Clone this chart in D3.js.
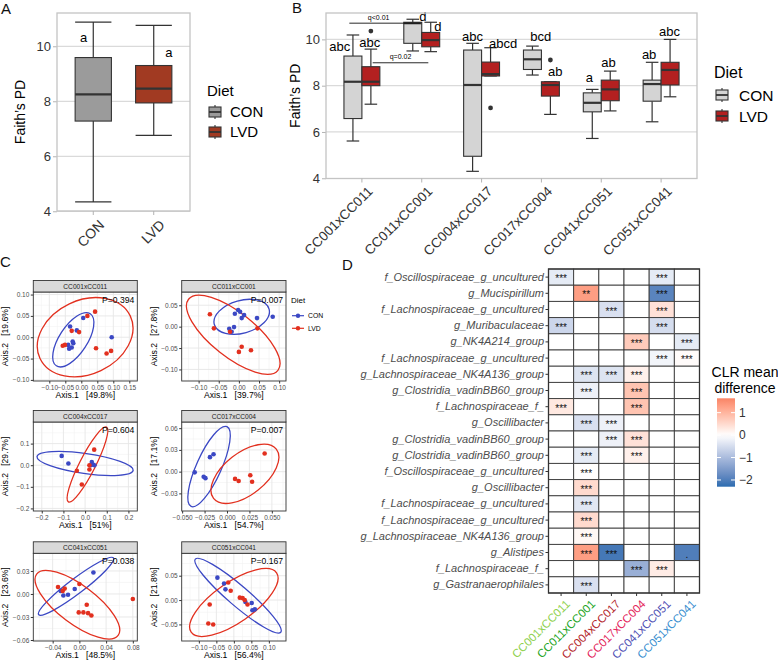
<!DOCTYPE html>
<html>
<head>
<meta charset="utf-8">
<script src="https://cdn.jsdelivr.net/npm/d3@7"></script>
<style>
  body { margin: 0; background: #fff; }
  text { font-family: "Liberation Sans", Arial, sans-serif; }
</style>
</head>
<body>
<div id="vis"></div>
<script>
// ---------- data ----------
var dietGroups = ["CON", "LVD"];
// [min, q1, median, q3, max]
var faithAll = [
  [4.34, 7.28, 8.25, 9.59, 10.88],
  [6.76, 7.94, 8.46, 9.30, 10.76]
];
var lettersAll = ["a", "a"];
var lettersAllY = [10.33, 9.78];

var crosses = ["CC001xCC011", "CC011xCC001", "CC004xCC017", "CC017xCC004", "CC041xCC051", "CC051xCC041"];
var faithCON = [
  [5.61, 6.58, 8.17, 9.28, 10.19],
  [9.50, 9.83, 10.70, 10.74, 10.87],
  [4.30, 4.95, 8.03, 9.54, 9.83],
  [8.46, 8.70, 9.14, 9.54, 9.71],
  [5.72, 6.87, 7.26, 7.69, 7.84],
  [6.44, 7.33, 8.07, 8.24, 9.01]
];
var faithLVD = [
  [7.20, 8.00, 8.17, 8.82, 9.58],
  [9.47, 9.68, 9.97, 10.30, 10.74],
  [8.42, 8.42, 8.50, 9.02, 9.64],
  [6.76, 7.55, 8.03, 8.17, 8.17],
  [6.91, 7.35, 7.84, 8.24, 8.63],
  [7.52, 8.03, 8.68, 9.01, 10.00]
];
// [cross index, diet, value]
var outliersB = [[0, "LVD", 10.36], [2, "LVD", 7.04], [3, "LVD", 9.11]];
var lettersCON = ["abc", "d", "abc", "bcd", "a", "ab"];
var lettersCONY = [9.68, 11.01, 10.12, 10.12, 8.34, 9.37];
var lettersLVD = ["abc", "d", "abcd", "ab", "ab", "abc"];
var lettersLVDY = [9.86, 10.55, 9.83, 8.60, 9.01, 10.33];
var qLabels = ["q<0.01", "q=0.02"];
var qLevels = [10.70, 8.99];

// PCoA facets
var pcoaP = ["P=0.394", "P=0.007", "P=0.604", "P=0.007", "P=0.038", "P=0.167"];
var axis1Pct = ["49.8%", "39.7%", "51%", "54.7%", "48.5%", "56.4%"];
var axis2Pct = ["19.6%", "27.8%", "29.7%", "17.1%", "23.6%", "21.8%"];
var xLimits = [[-0.150, 0.175], [-0.142, 0.117], [-0.239, 0.241], [-0.0505, 0.0658], [-0.069, 0.0867], [-0.149, 0.149]];
var yLimits = [[-0.1026, 0.106], [-0.127, 0.081], [-0.212, 0.200], [-0.0543, 0.0685], [-0.0613, 0.053], [-0.084, 0.096]];
var xTickVals = [
  [-0.10, -0.05, 0, 0.05, 0.10, 0.15], [-0.10, -0.05, 0, 0.05, 0.10], [-0.2, -0.1, 0, 0.1, 0.2],
  [-0.050, -0.025, 0, 0.025, 0.050], [-0.04, 0, 0.04, 0.08], [-0.10, -0.05, 0, 0.05, 0.10]
];
var xTickDigits = [2, 2, 1, 3, 2, 2];
var yTickVals = [
  [-0.10, -0.05, 0, 0.05, 0.10], [-0.10, -0.05, 0, 0.05], [-0.2, -0.1, 0, 0.1],
  [-0.03, 0, 0.03, 0.06], [-0.06, -0.03, 0, 0.03], [-0.05, 0, 0.05]
];
var yTickDigits = [2, 2, 1, 2, 2, 2];
var conPoints = [
  [[0.006, 0.045], [-0.035, 0.025], [-0.014, 0.016], [-0.027, -0.010], [-0.025, -0.014], [-0.041, -0.018], [-0.038, -0.027], [-0.030, -0.024], [0.095, 0.000]],
  [[-0.002, 0.039], [0.003, 0.035], [-0.010, 0.030], [0.013, 0.027], [0.007, 0.020], [0.045, 0.020], [0.084, 0.023], [-0.012, -0.001], [-0.024, -0.005], [-0.018, -0.012]],
  [[-0.108, 0.043], [-0.077, 0.008], [0.031, 0.015], [0.036, 0.003], [0.043, 0.000], [0.026, 0.000]],
  [[-0.036, -0.001], [-0.026, -0.007], [-0.024, -0.009], [-0.019, 0.020], [-0.015, 0.024]],
  [[0.021, 0.028], [-0.007, 0.0065], [-0.017, -0.001], [-0.024, -0.002], [-0.028, 0.004]],
  [[-0.047, 0.046], [-0.028, 0.034], [-0.024, 0.022], [0.033, -0.004], [0.051, -0.006], [0.053, -0.021], [0.060, -0.019]]
];
var lvdPoints = [
  [[0.043, 0.060], [0.019, 0.050], [-0.007, 0.012], [-0.030, 0.015], [-0.051, -0.018], [-0.058, -0.020], [0.046, -0.026], [0.079, -0.038], [0.093, -0.032]],
  [[-0.072, 0.029], [-0.062, -0.004], [-0.022, -0.012], [0.046, -0.004], [0.007, -0.047], [0.000, -0.059], [0.030, -0.055]],
  [[0.042, 0.072], [0.020, 0.000], [0.020, -0.020], [-0.038, -0.026], [-0.015, -0.089]],
  [[0.009, -0.010], [0.013, -0.013], [0.026, -0.005], [0.028, -0.014], [0.042, 0.025]],
  [[-0.032, 0.009], [-0.022, 0.007], [-0.025, 0.004], [0.000, 0.013], [0.011, -0.014], [-0.001, -0.024], [0.006, -0.024], [0.013, -0.025], [0.018, -0.028], [0.080, -0.0065]],
  [[-0.016, 0.036], [-0.009, 0.019], [0.017, 0.005], [0.025, 0.004], [0.031, 0.000], [0.039, -0.009], [-0.069, -0.009], [-0.073, -0.048], [-0.059, -0.050]]
];
// ellipse: [centre x, centre y, major-axis end x, major-axis end y, minor/major ratio]
var conEllipses = [
  [-0.025, -0.006, 0.028, 0.055, 0.45],
  [0.007, 0.023, 0.075, 0.041, 0.575],
  [0.000, 0.008, 0.222, -0.024, 0.205],
  [-0.020, 0.007, 0.000, 0.062, 0.284],
  [-0.005, 0.010, 0.051, 0.047, 0.16],
  [0.012, 0.009, 0.134, -0.066, 0.18]
];
var lvdEllipses = [
  [0.012, 0.000, 0.153, 0.050, 0.74],
  [-0.014, -0.019, 0.097, -0.102, 0.386],
  [0.011, 0.003, 0.099, 0.176, 0.19],
  [0.020, -0.003, 0.055, 0.031, 0.525],
  [-0.003, -0.014, 0.058, -0.054, 0.374],
  [0.000, -0.005, 0.122, 0.056, 0.385]
];

// heatmap
var taxa = [
  "f_Oscillospiraceae_g_uncultured", "g_Mucispirillum", "f_Lachnospiraceae_g_uncultured", "g_Muribaculaceae",
  "g_NK4A214_group", "f_Lachnospiraceae_g_uncultured", "g_Lachnospiraceae_NK4A136_group", "g_Clostridia_vadinBB60_group",
  "f_Lachnospiraceae_f_", "g_Oscillibacter", "g_Clostridia_vadinBB60_group", "g_Clostridia_vadinBB60_group",
  "f_Oscillospiraceae_g_uncultured", "g_Oscillibacter", "f_Lachnospiraceae_g_uncultured", "f_Lachnospiraceae_g_uncultured",
  "g_Lachnospiraceae_NK4A136_group", "g_Alistipes", "f_Lachnospiraceae_f_", "g_Gastranaerophilales"
];
var clrDiff = [
  [-0.3, null, null, null, -0.3, null],
  [null, 1.3, null, null, -1.9, null],
  [null, null, -0.45, null, 0.4, null],
  [-0.6, null, null, null, -0.5, null],
  [null, null, null, 0.7, null, -0.3],
  [null, null, null, null, -0.15, 0.05],
  [null, -0.4, -0.4, 0.2, null, null],
  [null, -0.2, null, 0.8, null, null],
  [0.3, null, null, 0.8, null, null],
  [null, -0.45, -0.2, null, null, null],
  [null, null, -0.2, 0.4, null, null],
  [null, -0.3, null, 0.2, null, null],
  [null, 0.02, null, null, null, null],
  [null, 0.5, null, null, null, null],
  [null, -0.35, null, null, null, null],
  [null, 0.5, null, null, null, null],
  [null, 0.1, null, null, null, null],
  [null, 1.3, -2.1, null, null, -2.0],
  [null, null, null, -1.2, 0.25, null],
  [null, -0.45, null, null, null, null]
];
var clrSig = [
  ["***", "", "", "", "***", ""],
  ["", "**", "", "", "***", ""],
  ["", "", "***", "", "***", ""],
  ["***", "", "", "", "***", ""],
  ["", "", "", "***", "", "***"],
  ["", "", "", "", "***", "***"],
  ["", "***", "***", "***", "", ""],
  ["", "***", "", "***", "", ""],
  ["***", "", "", "***", "", ""],
  ["", "***", "***", "", "", ""],
  ["", "", "***", "***", "", ""],
  ["", "***", "", "***", "", ""],
  ["", "***", "", "", "", ""],
  ["", "***", "", "", "", ""],
  ["", "***", "", "", "", ""],
  ["", "***", "", "", "", ""],
  ["", "***", "", "", "", ""],
  ["", "***", "***", "", "", "."],
  ["", "", "", "***", "***", ""],
  ["", "***", "", "", "", ""]
];
var clrLimits = [-2.3, 1.64];
var clrTicks = [1, 0, -1, -2];
var crossColors = ["#8fd14f", "#24a424", "#b3262b", "#e3245a", "#5050b4", "#3a8fd0"];

// ---------- drawing ----------
var svg = d3.select("#vis").append("svg")
  .attr("width", 778).attr("height", 662)
  .style("background", "#fff");

function drawBox(g, cx, bw, capW, s, y, fill) {
  var stroke = "#333";
  g.append("line").attr("x1", cx).attr("x2", cx).attr("y1", y(s[4])).attr("y2", y(s[3]))
    .attr("stroke", stroke).attr("stroke-width", 1.2);
  g.append("line").attr("x1", cx).attr("x2", cx).attr("y1", y(s[1])).attr("y2", y(s[0]))
    .attr("stroke", stroke).attr("stroke-width", 1.2);
  [s[0], s[4]].forEach(function(v) {
    g.append("line").attr("x1", cx - capW / 2).attr("x2", cx + capW / 2).attr("y1", y(v)).attr("y2", y(v))
      .attr("stroke", stroke).attr("stroke-width", 1.2);
  });
  g.append("rect").attr("x", cx - bw / 2).attr("y", y(s[3]))
    .attr("width", bw).attr("height", y(s[1]) - y(s[3]))
    .attr("fill", fill).attr("stroke", stroke).attr("stroke-width", 1.1);
  g.append("line").attr("x1", cx - bw / 2).attr("x2", cx + bw / 2).attr("y1", y(s[2])).attr("y2", y(s[2]))
    .attr("stroke", stroke).attr("stroke-width", 2.2);
}

function boxKey(g, x, y, fill) {
  g.append("line").attr("x1", x + 6).attr("x2", x + 6).attr("y1", y - 7).attr("y2", y + 7)
    .attr("stroke", "#333").attr("stroke-width", 1.1);
  g.append("rect").attr("x", x).attr("y", y - 5).attr("width", 12).attr("height", 10)
    .attr("fill", fill).attr("stroke", "#333").attr("stroke-width", 1.1);
  g.append("line").attr("x1", x).attr("x2", x + 12).attr("y1", y).attr("y2", y)
    .attr("stroke", "#333").attr("stroke-width", 1.8);
}

function panelLetter(t, x, y) {
  svg.append("text").attr("x", x).attr("y", y).text(t)
    .style("font-size", "15px").attr("fill", "#111");
}

function themeLight(g, x0, x1, y, ticks) {
  ticks.forEach(function(t) {
    g.append("line").attr("x1", x0).attr("x2", x1).attr("y1", y(t)).attr("y2", y(t))
      .attr("stroke", "#dadada").attr("stroke-width", 1.3);
  });
  var yAxis = d3.axisLeft(y).tickValues(ticks).tickSize(4).tickPadding(2);
  var ag = g.append("g").attr("transform", "translate(" + x0 + ",0)").call(yAxis);
  ag.select(".domain").remove();
  ag.selectAll("line").attr("stroke", "#b3b3b3");
  ag.selectAll("text").style("font-size", "13px").attr("fill", "#333")
    .style("font-family", "'Liberation Sans', Arial, sans-serif");
}

// ----- panel A -----
panelLetter("A", 1, 14);
var aLeft = 57, aRight = 190, aTop = 13, aBottom = 211;
var xA = d3.scalePoint().domain(dietGroups).range([aLeft, aRight]).padding(0.6);
var yA = d3.scaleLinear().domain([4.01, 11.21]).range([aBottom, aTop]);
var gA = svg.append("g");
themeLight(gA, aLeft, aRight, yA, [4, 6, 8, 10]);
var stepA = xA.step();
faithAll.forEach(function(s, i) {
  drawBox(gA, xA(dietGroups[i]), stepA * 0.6, stepA * 0.6, s, yA, i === 0 ? "#9b9b9b" : "#a13a22");
});
var letterNudgeA = [-0.16, 0.25];
lettersAll.forEach(function(t, i) {
  gA.append("text").attr("x", xA(dietGroups[i]) + letterNudgeA[i] * stepA).attr("y", yA(lettersAllY[i]))
    .attr("dy", "0.35em").attr("text-anchor", "middle").style("font-size", "13px").text(t);
});
gA.append("rect").attr("x", aLeft).attr("y", aTop).attr("width", aRight - aLeft).attr("height", aBottom - aTop)
  .attr("fill", "none").attr("stroke", "#c4c4c4").attr("stroke-width", 1.3);
dietGroups.forEach(function(d) {
  var x = xA(d);
  gA.append("line").attr("x1", x).attr("x2", x).attr("y1", aBottom).attr("y2", aBottom + 4).attr("stroke", "#b3b3b3");
  gA.append("text").attr("transform", "translate(" + (x + 5) + "," + (aBottom + 8) + ") rotate(-45)")
    .attr("text-anchor", "end").attr("dy", "0.7em").style("font-size", "14px").attr("fill", "#333").text(d);
});
gA.append("text").attr("transform", "translate(25," + ((aTop + aBottom) / 2) + ") rotate(-90)")
  .attr("text-anchor", "middle").style("font-size", "14px").text("Faith’s PD");
gA.append("text").attr("x", 207).attr("y", 96).style("font-size", "15px").text("Diet");
boxKey(gA, 209, 112, "#9b9b9b");
boxKey(gA, 209, 132, "#a13a22");
gA.append("text").attr("x", 230).attr("y", 117).style("font-size", "15px").text("CON");
gA.append("text").attr("x", 230).attr("y", 137).style("font-size", "15px").text("LVD");

// ----- panel B -----
panelLetter("B", 292, 13);
var bLeft = 326, bRight = 697, bTop = 13, bBottom = 178.5;
var xB = d3.scalePoint().domain(crosses).range([bLeft, bRight]).padding(0.6);
var yB = d3.scaleLinear().domain([3.99, 11.14]).range([bBottom, bTop]);
var gB = svg.append("g");
themeLight(gB, bLeft, bRight, yB, [6, 8, 10]);
gB.append("g").attr("transform", "translate(" + bLeft + ",0)")
  .call(d3.axisLeft(yB).tickValues([4]).tickSize(4).tickPadding(2))
  .call(function(a) {
    a.select(".domain").remove();
    a.selectAll("line").attr("stroke", "#b3b3b3");
    a.selectAll("text").style("font-size", "13px").attr("fill", "#333");
  });
var stepB = xB.step();
var bw = stepB * 0.3;
crosses.forEach(function(c, i) {
  drawBox(gB, xB(c) - bw / 2, bw, bw * 0.7, faithCON[i], yB, "#d4d4d4");
  drawBox(gB, xB(c) + bw / 2, bw, bw * 0.7, faithLVD[i], yB, "#b32020");
});
outliersB.forEach(function(o) {
  var cx = xB(crosses[o[0]]) + (o[1] === "CON" ? -bw / 2 : bw / 2);
  gB.append("circle").attr("cx", cx).attr("cy", yB(o[2])).attr("r", 2.4).attr("fill", "#333");
});
var nudgeCON = [-0.37, 0.02, -0.15, -0.01, -0.2, -0.2];
var nudgeLVD = [0.13, 0.27, 0.36, 0.23, 0.12, 0.14];
crosses.forEach(function(c, i) {
  gB.append("text").attr("x", xB(c) + nudgeCON[i] * stepB).attr("y", yB(lettersCONY[i])).attr("dy", "0.35em")
    .attr("text-anchor", "middle").style("font-size", "13px").text(lettersCON[i]);
  gB.append("text").attr("x", xB(c) + nudgeLVD[i] * stepB).attr("y", yB(lettersLVDY[i])).attr("dy", "0.35em")
    .attr("text-anchor", "middle").style("font-size", "13px").text(lettersLVD[i]);
});
// pairwise brackets between the first two crosses
var qFrom = [-0.21, 0.18], qTo = [-0.03, 0.11];
qLabels.forEach(function(q, i) {
  var x1 = xB(crosses[0]) + qFrom[i] * stepB, x2 = xB(crosses[1]) + qTo[i] * stepB;
  gB.append("line").attr("x1", x1).attr("x2", x2).attr("y1", yB(qLevels[i])).attr("y2", yB(qLevels[i]))
    .attr("stroke", "#111").attr("stroke-width", 0.9);
  gB.append("text").attr("x", (x1 + x2) / 2 - (i === 0 ? 6 : 0)).attr("y", yB(qLevels[i]) - 3.5)
    .attr("text-anchor", "middle").style("font-size", "7px").text(q);
});
gB.append("rect").attr("x", bLeft).attr("y", bTop).attr("width", bRight - bLeft).attr("height", bBottom - bTop)
  .attr("fill", "none").attr("stroke", "#c4c4c4").attr("stroke-width", 1.3);
crosses.forEach(function(c) {
  var x = xB(c);
  gB.append("line").attr("x1", x).attr("x2", x).attr("y1", bBottom).attr("y2", bBottom + 4).attr("stroke", "#b3b3b3");
  gB.append("text").attr("transform", "translate(" + (x + 5) + "," + (bBottom + 7) + ") rotate(-45)")
    .attr("text-anchor", "end").attr("dy", "0.7em").style("font-size", "13.5px").attr("fill", "#333").text(c);
});
gB.append("text").attr("transform", "translate(300," + ((bTop + bBottom) / 2) + ") rotate(-90)")
  .attr("text-anchor", "middle").style("font-size", "14px").text("Faith’s PD");
gB.append("text").attr("x", 714).attr("y", 78).style("font-size", "16px").text("Diet");
boxKey(gB, 716, 95, "#d4d4d4");
boxKey(gB, 716, 116, "#b32020");
gB.append("text").attr("x", 739).attr("y", 100.5).style("font-size", "15.5px").text("CON");
gB.append("text").attr("x", 739).attr("y", 121.5).style("font-size", "15.5px").text("LVD");

// ----- panel C -----
panelLetter("C", 0, 267);
var cCols = [[33.3, 137.3], [181.7, 286]];
var cRows = [[292, 381], [422, 511], [553.3, 641]];
var stripH = 11.5;
var colCON = "#3b48c4", colLVD = "#e2301f";

function fmtTick(v, d) {
  var s = d3.format("." + d + "f")(Math.abs(v));
  return (v < 0 ? "\u2212" : "") + s;
}

crosses.forEach(function(c, k) {
  var px = cCols[k % 2], py = cRows[Math.floor(k / 2)];
  var x = d3.scaleLinear().domain(xLimits[k]).range(px);
  var y = d3.scaleLinear().domain(yLimits[k]).range([py[1], py[0]]);
  var g = svg.append("g");
  g.append("rect").attr("x", px[0]).attr("y", py[0]).attr("width", px[1] - px[0]).attr("height", py[1] - py[0])
    .attr("fill", "#fff");
  var xs = xTickVals[k], ys = yTickVals[k];
  var xstep = xs[1] - xs[0], ystep = ys[1] - ys[0];
  var xmin = d3.range(xs[0] - xstep / 2, xLimits[k][1], xstep).filter(function(v) { return v > xLimits[k][0]; });
  var ymin = d3.range(ys[0] - ystep / 2, yLimits[k][1], ystep).filter(function(v) { return v > yLimits[k][0]; });
  xmin.forEach(function(v) {
    g.append("line").attr("x1", x(v)).attr("x2", x(v)).attr("y1", py[0]).attr("y2", py[1]).attr("stroke", "#f2f2f2").attr("stroke-width", 0.6);
  });
  ymin.forEach(function(v) {
    g.append("line").attr("y1", y(v)).attr("y2", y(v)).attr("x1", px[0]).attr("x2", px[1]).attr("stroke", "#f2f2f2").attr("stroke-width", 0.6);
  });
  xs.forEach(function(v) {
    g.append("line").attr("x1", x(v)).attr("x2", x(v)).attr("y1", py[0]).attr("y2", py[1]).attr("stroke", "#e6e6e6").attr("stroke-width", 0.9);
  });
  ys.forEach(function(v) {
    g.append("line").attr("y1", y(v)).attr("y2", y(v)).attr("x1", px[0]).attr("x2", px[1]).attr("stroke", "#e6e6e6").attr("stroke-width", 0.9);
  });

  var clip = "clipC" + k;
  svg.append("clipPath").attr("id", clip).append("rect")
    .attr("x", px[0]).attr("y", py[0]).attr("width", px[1] - px[0]).attr("height", py[1] - py[0]);
  var gp = g.append("g").attr("clip-path", "url(#" + clip + ")");
  [[conEllipses[k], colCON], [lvdEllipses[k], colLVD]].forEach(function(e) {
    var p = e[0];
    var cx = x(p[0]), cy = y(p[1]), ex = x(p[2]), ey = y(p[3]);
    var a = Math.sqrt((ex - cx) * (ex - cx) + (ey - cy) * (ey - cy));
    var ang = Math.atan2(ey - cy, ex - cx) * 180 / Math.PI;
    gp.append("ellipse").attr("cx", cx).attr("cy", cy).attr("rx", a).attr("ry", a * p[4])
      .attr("transform", "rotate(" + ang + "," + cx + "," + cy + ")")
      .attr("fill", "none").attr("stroke", e[1]).attr("stroke-width", 1.3);
  });
  conPoints[k].forEach(function(d) {
    gp.append("circle").attr("cx", x(d[0])).attr("cy", y(d[1])).attr("r", 2.3).attr("fill", colCON);
  });
  lvdPoints[k].forEach(function(d) {
    gp.append("circle").attr("cx", x(d[0])).attr("cy", y(d[1])).attr("r", 2.3).attr("fill", colLVD);
  });
  g.append("rect").attr("x", px[0]).attr("y", py[0]).attr("width", px[1] - px[0]).attr("height", py[1] - py[0])
    .attr("fill", "none").attr("stroke", "#333").attr("stroke-width", 0.9);
  g.append("rect").attr("x", px[0]).attr("y", py[0] - stripH).attr("width", px[1] - px[0]).attr("height", stripH)
    .attr("fill", "#d9d9d9").attr("stroke", "#333").attr("stroke-width", 0.9);
  g.append("text").attr("x", (px[0] + px[1]) / 2).attr("y", py[0] - stripH / 2).attr("dy", "0.35em")
    .attr("text-anchor", "middle").style("font-size", "6.6px").attr("fill", "#1a1a1a").text(c);
  g.append("text").attr("x", px[1] - 3).attr("y", py[0] + 11).attr("text-anchor", "end")
    .style("font-size", "8.6px").text(pcoaP[k]);

  var ax = g.append("g").attr("transform", "translate(0," + py[1] + ")")
    .call(d3.axisBottom(x).tickValues(xs).tickSize(2.5).tickPadding(1.5)
      .tickFormat(function(v) { return fmtTick(v, xTickDigits[k]); }));
  var ay = g.append("g").attr("transform", "translate(" + px[0] + ",0)")
    .call(d3.axisLeft(y).tickValues(ys).tickSize(2.5).tickPadding(1.5)
      .tickFormat(function(v) { return fmtTick(v, yTickDigits[k]); }));
  [ax, ay].forEach(function(a) {
    a.select(".domain").remove();
    a.selectAll("line").attr("stroke", "#333");
    a.selectAll("text").style("font-size", "6.5px").attr("fill", "#4d4d4d")
      .style("font-family", "'Liberation Sans', Arial, sans-serif");
  });
  g.append("text").attr("x", (px[0] + px[1]) / 2).attr("y", py[1] + 17).attr("text-anchor", "middle")
    .style("font-size", "8.6px").style("white-space", "pre").text("Axis.1   [" + axis1Pct[k] + "]");
  g.append("text").attr("transform", "translate(" + (px[0] - 25) + "," + ((py[0] + py[1]) / 2) + ") rotate(-90)")
    .attr("text-anchor", "middle").style("font-size", "8.6px").style("white-space", "pre")
    .text("Axis.2   [" + axis2Pct[k] + "]");
});
svg.append("text").attr("x", 291).attr("y", 303).style("font-size", "8px").text("Diet");
[["CON", colCON, 315.7], ["LVD", colLVD, 328.3]].forEach(function(d) {
  svg.append("line").attr("x1", 292).attr("x2", 304).attr("y1", d[2]).attr("y2", d[2]).attr("stroke", d[1]).attr("stroke-width", 1.2);
  svg.append("circle").attr("cx", 298).attr("cy", d[2]).attr("r", 2.2).attr("fill", d[1]);
  svg.append("text").attr("x", 308).attr("y", d[2]).attr("dy", "0.35em").style("font-size", "6.8px").text(d[0]);
});

// ----- panel D -----
panelLetter("D", 342, 270);
var hLeft = 548.5, hRight = 699.5, hTop = 269, hBottom = 593;
var xH = d3.scaleBand().domain(crosses).range([hLeft, hRight]);
var yH = d3.scaleBand().domain(d3.range(taxa.length)).range([hTop, hBottom]);
var mAbs = Math.max(Math.abs(clrLimits[0]), Math.abs(clrLimits[1]));
var fillH = d3.scaleLinear().domain([-mAbs, 0, mAbs]).range(["#2b6cb0", "#ffffff", "#ea4a2c"])
  .interpolate(d3.interpolateLab);
var gH = svg.append("g");
taxa.forEach(function(t, r) {
  crosses.forEach(function(c, j) {
    var v = clrDiff[r][j];
    gH.append("rect").attr("x", xH(c)).attr("y", yH(r)).attr("width", xH.bandwidth()).attr("height", yH.bandwidth())
      .attr("fill", v === null ? "#fff" : fillH(v)).attr("stroke", "#3a3a3a").attr("stroke-width", 0.9);
    if (clrSig[r][j]) {
      gH.append("text").attr("x", xH(c) + xH.bandwidth() / 2).attr("y", yH(r) + yH.bandwidth() / 2 + 5)
        .attr("text-anchor", "middle").style("font-size", "10px").attr("fill", "#111").text(clrSig[r][j]);
    }
  });
});
gH.append("rect").attr("x", hLeft).attr("y", hTop).attr("width", hRight - hLeft).attr("height", hBottom - hTop)
  .attr("fill", "none").attr("stroke", "#333").attr("stroke-width", 1.3);
var axH = gH.append("g").attr("transform", "translate(" + hLeft + ",0)")
  .call(d3.axisLeft(yH).tickSize(3).tickPadding(1.5).tickFormat(function(i) { return taxa[i]; }));
axH.select(".domain").remove();
axH.selectAll("line").attr("stroke", "#333");
axH.selectAll("text").style("font-size", "11px").style("font-style", "italic").attr("fill", "#4d4d4d")
  .style("font-family", "'Liberation Sans', Arial, sans-serif");
crosses.forEach(function(c, j) {
  var x = xH(c) + xH.bandwidth() / 2;
  gH.append("line").attr("x1", x).attr("x2", x).attr("y1", hBottom).attr("y2", hBottom + 3).attr("stroke", "#333");
  gH.append("text").attr("transform", "translate(" + (x + 4) + "," + (hBottom + 6) + ") rotate(-45)")
    .attr("text-anchor", "end").attr("dy", "0.7em").style("font-size", "11.5px").attr("fill", crossColors[j]).text(c);
});
// colour bar
var lgX = 717, lgTop = 398.3, lgBottom = 486.7, lgW = 18;
var yL = d3.scaleLinear().domain(clrLimits).range([lgBottom, lgTop]);
var grad = svg.append("defs").append("linearGradient").attr("id", "clrGrad")
  .attr("x1", 0).attr("x2", 0).attr("y1", 1).attr("y2", 0);
d3.range(0, 1.0001, 0.05).forEach(function(f) {
  var v = clrLimits[0] + f * (clrLimits[1] - clrLimits[0]);
  grad.append("stop").attr("offset", f).attr("stop-color", fillH(v));
});
svg.append("rect").attr("x", lgX).attr("y", lgTop).attr("width", lgW).attr("height", lgBottom - lgTop)
  .attr("fill", "url(#clrGrad)");
clrTicks.forEach(function(t) {
  svg.append("line").attr("x1", lgX).attr("x2", lgX + 4).attr("y1", yL(t)).attr("y2", yL(t)).attr("stroke", "#fff");
  svg.append("line").attr("x1", lgX + lgW - 4).attr("x2", lgX + lgW).attr("y1", yL(t)).attr("y2", yL(t)).attr("stroke", "#fff");
  svg.append("text").attr("x", lgX + lgW + 4).attr("y", yL(t)).attr("dy", "0.35em")
    .style("font-size", "12px").attr("fill", "#333").text(t < 0 ? "\u2212" + Math.abs(t) : t);
});
svg.append("text").attr("x", 745).attr("y", 377).attr("text-anchor", "middle").style("font-size", "14px").text("CLR mean");
svg.append("text").attr("x", 745).attr("y", 393).attr("text-anchor", "middle").style("font-size", "14px").text("difference");
</script>
</body>
</html>
